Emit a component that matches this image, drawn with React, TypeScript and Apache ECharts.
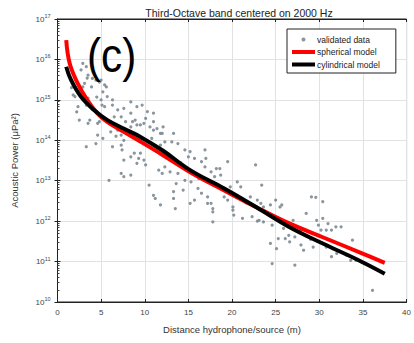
import React, { useEffect, useRef } from "react";
import * as echarts from "echarts";

// x in metres, y as log10 of acoustic power (µPa²)
const validatedX: number[] = [
  2.9, 3.4, 4.8, 5.6, 2.9, 1.8, 4.5, 6.3, 5.1, 3.3, 2.7, 3.5, 4.0, 4.4, 5.0, 3.1, 3.9, 5.4, 5.2, 5.7,
  5.0, 3.5, 2.0, 2.35, 3.3, 5.4, 6.3, 6.9, 7.6, 8.4, 9.1, 9.7, 10.3, 11.0, 8.4, 7.3, 6.5, 7.8, 8.9, 10.1,
  11.0, 9.5, 8.4, 3.7, 2.5, 4.6, 3.5, 4.8, 4.6, 5.2, 6.1, 6.9, 7.3, 7.6, 7.3, 3.3, 4.4, 6.3, 7.4, 7.6,
  8.4, 8.8, 9.3, 9.9, 9.1, 10.1, 9.5, 8.4, 7.6, 7.3, 5.9, 10.5, 11.0, 11.2, 11.8, 8.6, 9.1, 9.9, 10.6, 11.0,
  11.4, 11.8, 11.6, 12.0, 12.1, 13.3, 12.0, 12.3, 13.1, 11.8, 13.8, 14.6, 15.2, 15.0, 15.7, 16.9, 17.0, 16.5, 16.9, 17.6,
  18.2, 18.6, 19.5, 18.7, 18.0, 12.3, 12.9, 13.8, 14.6, 13.6, 15.3, 16.1, 16.5, 17.2, 14.4, 13.3, 13.3, 15.7, 17.6, 19.1,
  20.6, 21.0, 22.7, 23.4, 22.1, 22.9, 23.6, 20.1, 19.5, 23.3, 24.4, 25.0, 25.5, 25.7, 23.6, 23.1, 24.6, 24.4, 25.3, 25.1,
  26.1, 26.5, 26.6, 27.2, 25.9, 27.0, 28.5, 29.1, 30.4, 29.7, 30.4, 31.0, 29.9, 30.2, 30.8, 31.4, 31.9, 32.5, 33.8, 27.9,
  28.2, 29.3, 28.5, 24.6, 27.2, 30.8, 31.5, 31.4, 33.1, 34.2, 36.1, 33.6, 13.5, 15.2, 17.2, 17.8, 17.8, 17.8, 20.1, 20.2,
  21.2, 22.3, 22.9, 29.6, 1.6, 2.2, 6.7, 10.8, 14.1, 16.2, 19.8, 21.6, 24.9, 27.8, 29.0, 32.0
];
const validatedLog: number[] = [
  15.9, 15.54, 15.44, 15.32, 15.32, 15.12, 15.07, 15.0, 14.87, 15.82, 15.74, 15.61, 15.53, 15.49, 15.49, 15.41, 15.32, 15.37, 15.2, 15.08,
  15.0, 15.04, 15.08, 14.83, 14.87, 14.83, 14.87, 14.75, 14.79, 14.95, 14.83, 14.87, 14.71, 14.67, 14.67, 14.58, 14.58, 14.46, 14.5, 14.54,
  14.46, 14.38, 14.33, 14.5, 14.5, 14.42, 14.42, 14.46, 14.13, 14.05, 14.21, 14.25, 14.13, 14.0, 13.88, 13.84, 13.92, 13.84, 13.76, 13.51,
  13.59, 13.68, 13.55, 13.51, 13.43, 13.39, 13.68, 13.14, 13.1, 13.18, 13.01, 12.89, 12.64, 12.56, 12.4, 14.46, 14.38, 14.42, 14.33, 14.25,
  14.29, 14.17, 13.26, 13.18, 14.33, 14.17, 14.17, 13.96, 13.96, 13.88, 13.92, 13.76, 13.72, 13.59, 13.55, 13.76, 13.55, 13.47, 13.34, 13.22,
  13.3, 13.3, 13.47, 13.14, 13.1, 13.34, 13.22, 13.18, 13.01, 12.93, 12.97, 12.81, 12.69, 12.6, 12.77, 12.73, 12.56, 12.52, 12.44, 12.6,
  12.97, 12.85, 13.39, 12.89, 12.6, 12.52, 12.35, 12.35, 12.52, 12.44, 12.4, 12.52, 12.35, 12.4, 11.98, 12.02, 11.9, 11.45, 11.57, 11.32,
  11.57, 11.65, 11.49, 11.61, 11.82, 12.02, 12.19, 12.6, 12.48, 12.02, 12.07, 11.94, 11.9, 11.78, 11.78, 11.78, 11.86, 11.86, 11.53, 11.41,
  11.28, 11.36, 11.65, 10.95, 10.91, 11.36, 11.32, 11.12, 11.16, 11.03, 10.29, 11.03, 12.31, 12.44, 12.44, 12.31, 12.23, 11.98, 12.27, 12.15,
  12.07, 12.11, 12.0, 12.59, 15.3, 14.7, 14.1, 14.05, 13.45, 13.05, 12.85, 12.45, 12.1, 11.75, 11.55, 11.2
];

const sphericalX: number[] = [1, 1.4, 2.3, 3.4, 4.55, 5.65, 7.5, 9.5, 12, 15.25, 19, 22.8, 26.5, 30.4, 34.9, 37.5];
const sphericalY: number[] = [3.0e16, 7.9e15, 2.6e15, 1.0e15, 4.7e14, 2.9e14, 1.66e14, 9.3e13, 4.4e13, 1.6e13, 5.9e12, 2.2e12, 8.9e11, 4.0e11, 1.6e11, 9.3e10];

const cylindricalX: number[] = [1, 1.55, 2.68, 4.18, 5.68, 7.57, 9.46, 12.1, 15.25, 19.06, 22.8, 26.55, 30.4, 34.9, 37.5];
const cylindricalY: number[] = [6.6e15, 3.1e15, 1.2e15, 5.6e14, 3.2e14, 1.95e14, 1.23e14, 5.5e13, 1.8e13, 6.5e12, 2.2e12, 7.2e11, 2.8e11, 9.8e10, 5.0e10];

const xTicks = { min: 0, max: 40, interval: 5 };
const yRange = { min: 1e10, max: 1e17 };

const FONT = "Liberation Sans, Arial, sans-serif";

export default function App() {
  const ref = useRef<HTMLDivElement>(null);
  useEffect(() => {
    document.body.style.margin = "0";
    if (!ref.current) return;
    const chart = echarts.init(ref.current, undefined, { renderer: "svg" });
    const scatterData = validatedX.map((x, i) => [x, Math.pow(10, validatedLog[i])]);
    const sph = sphericalX.map((x, i) => [x, sphericalY[i]]);
    const cyl = cylindricalX.map((x, i) => [x, cylindricalY[i]]);
    const yLabel = (v: number) => {
      const e = Math.round(Math.log10(v));
      return "{b|10}{e|" + e + "}";
    };
    chart.setOption({
      animation: false,
      backgroundColor: "#fff",
      textStyle: { fontFamily: FONT },
      title: {
        text: "Third-Octave band centered on 2000 Hz",
        left: 234,
        top: 2,
        textAlign: "center",
        textStyle: { fontSize: 10.5, fontWeight: "normal", color: "#222", fontFamily: FONT },
      },
      grid: {
        left: 57.5,
        right: 3,
        top: 19,
        bottom: 41,
        show: true,
        borderColor: "#222",
        borderWidth: 1,
      },
      legend: {
        left: 287,
        top: 29,
        orient: "vertical",
        align: "left",
        backgroundColor: "#fff",
        borderColor: "#222",
        borderWidth: 1,
        borderRadius: 0,
        padding: [6, 16, 4, 5],
        itemWidth: 23,
        itemHeight: 4,
        itemGap: 3.5,
        textStyle: { fontSize: 8.5, color: "#222", fontFamily: FONT, padding: [0, 0, 0, -3] },
        data: [
          { name: "validated data", icon: "circle", itemStyle: { color: "#7d8b93" } },
          { name: "spherical model", icon: "rect" },
          { name: "cylindrical model", icon: "rect" },
        ],
      },
      xAxis: [
        {
          type: "value",
          min: xTicks.min,
          max: xTicks.max,
          interval: xTicks.interval,
          name: "Distance hydrophone/source (m)",
          nameLocation: "middle",
          nameGap: 22,
          nameTextStyle: { fontSize: 9.5, color: "#333", fontFamily: FONT },
          axisLine: { show: true, lineStyle: { color: "#222" } },
          axisTick: { show: true, inside: true, length: 3, lineStyle: { color: "#222" } },
          axisLabel: { fontSize: 8, color: "#444", margin: 6, fontFamily: FONT },
          splitLine: { show: true, lineStyle: { color: "#e2e2e2", width: 1 } },
        },
        {
          type: "value",
          position: "top",
          min: xTicks.min,
          max: xTicks.max,
          interval: xTicks.interval,
          axisLine: { show: true, lineStyle: { color: "#222" } },
          axisTick: { show: true, inside: true, length: 3, lineStyle: { color: "#222" } },
          axisLabel: { show: false },
          splitLine: { show: false },
        },
      ],
      yAxis: [
        {
          type: "log",
          logBase: 10,
          min: yRange.min,
          max: yRange.max,
          splitNumber: 7,
          name: "Acoustic Power (\u03bcPa\u00b2)",
          nameLocation: "middle",
          nameRotate: 90,
          nameGap: 38,
          nameTextStyle: { fontSize: 9.5, color: "#333", fontFamily: FONT },
          axisLine: { show: true, lineStyle: { color: "#222" } },
          axisTick: { show: true, inside: true, length: 3, lineStyle: { color: "#222" } },
          minorTick: { show: true, splitNumber: 9, length: 2, lineStyle: { color: "#444" } },
          axisLabel: {
            formatter: yLabel,
            margin: 7,
            rich: {
              b: { fontSize: 8, color: "#444", fontFamily: FONT },
              e: { fontSize: 5.5, color: "#444", fontFamily: FONT, padding: [0, 0, 6, 0] },
            },
          },
          splitLine: { show: true, lineStyle: { color: "#e2e2e2", width: 1 } },
        },
        {
          type: "log",
          logBase: 10,
          position: "right",
          min: yRange.min,
          max: yRange.max,
          splitNumber: 7,
          axisLine: { show: true, lineStyle: { color: "#222" } },
          axisTick: { show: true, inside: true, length: 3, lineStyle: { color: "#222" } },
          axisLabel: { show: false },
          splitLine: { show: false },
        },
      ],
      series: [
        {
          name: "validated data",
          type: "scatter",
          data: scatterData,
          symbol: "circle",
          symbolSize: 3.2,
          itemStyle: { color: "#7d8b93", opacity: 0.9 },
          z: 2,
        },
        {
          name: "spherical model",
          type: "line",
          data: sph,
          smooth: 0.4,
          showSymbol: false,
          symbol: "none",
          lineStyle: { color: "#ff0000", width: 4 },
          itemStyle: { color: "#ff0000" },
          z: 3,
        },
        {
          name: "cylindrical model",
          type: "line",
          data: cyl,
          smooth: 0.4,
          showSymbol: false,
          symbol: "none",
          lineStyle: { color: "#000", width: 4 },
          itemStyle: { color: "#000" },
          z: 4,
        },
      ],
      graphic: [
        {
          type: "text",
          x: 87,
          y: 32,
          scaleX: 0.88,
          style: { text: "(c)", fontSize: 48, fill: "#000", fontFamily: FONT },
          z: 10,
        },
      ],
    });
    return () => chart.dispose();
  }, []);
  return <div ref={ref} style={{ width: 414, height: 343 }} />;
}
